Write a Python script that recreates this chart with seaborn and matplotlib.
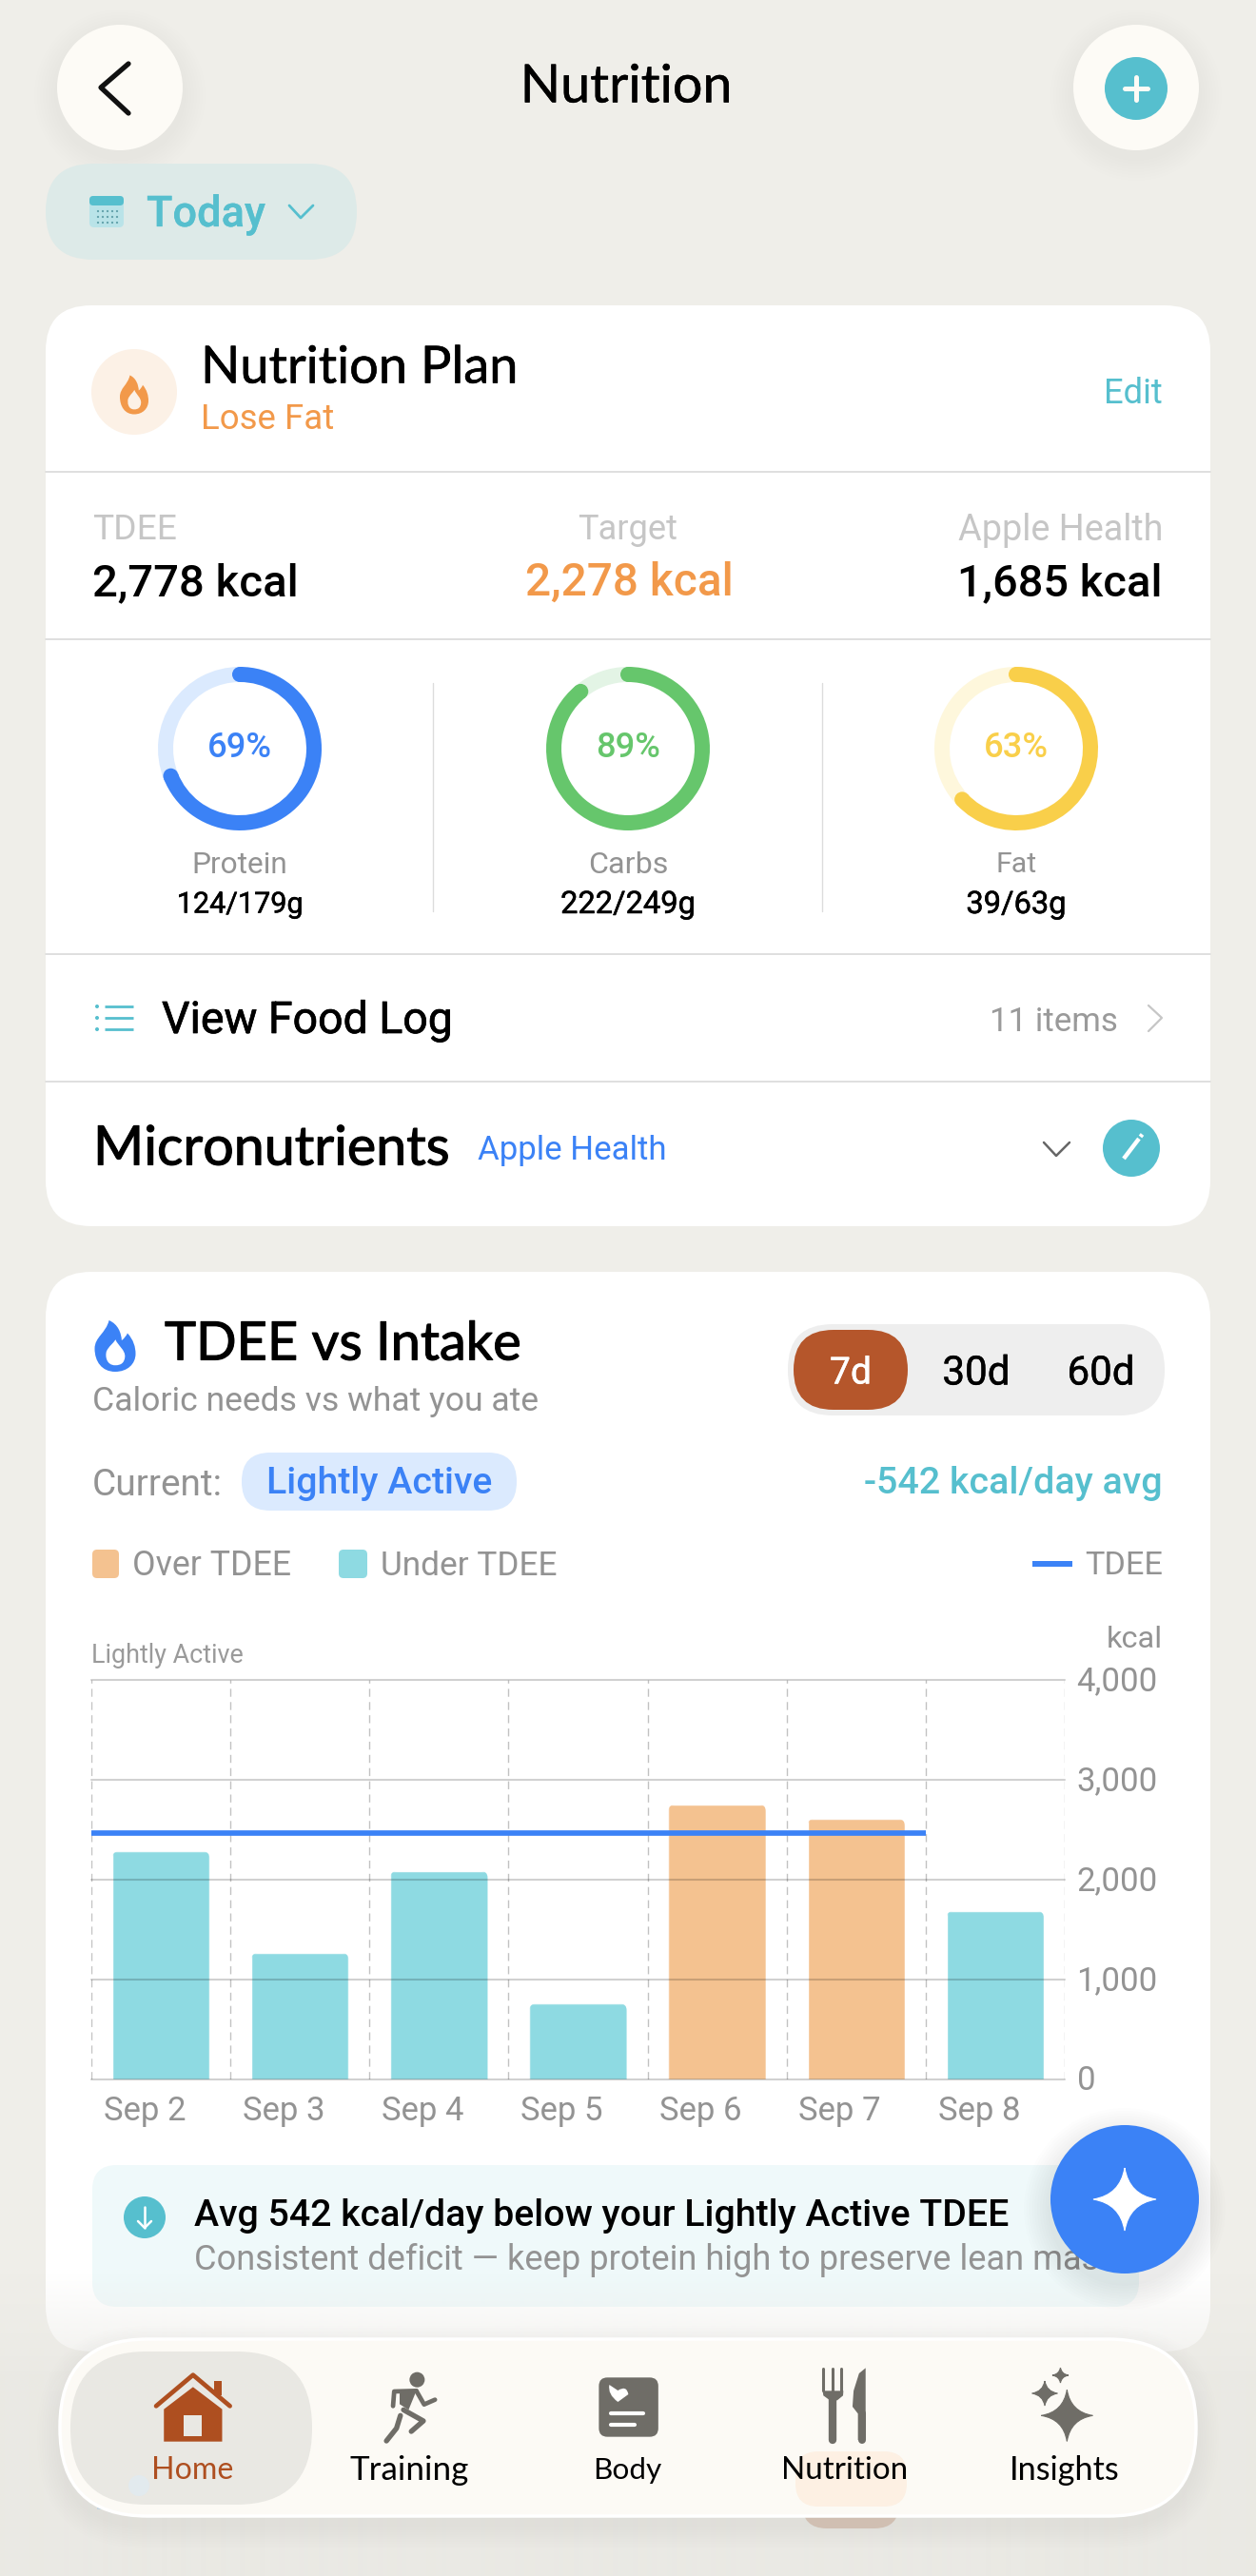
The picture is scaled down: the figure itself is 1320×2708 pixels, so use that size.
import numpy as np
import pandas as pd
import matplotlib
matplotlib.use("Agg")
import matplotlib.pyplot as plt
import seaborn as sns
from matplotlib.patches import FancyBboxPatch, Circle, PathPatch, Rectangle
from matplotlib.path import Path
from matplotlib.transforms import ScaledTranslation, IdentityTransform
import matplotlib.patheffects as pe

# ---------- chart data ----------
DAYS = ["Sep 2", "Sep 3", "Sep 4", "Sep 5", "Sep 6", "Sep 7", "Sep 8"]
INTAKE = [2282, 1265, 2085, 758, 2752, 2607, 1684]
STATUS = ["Under", "Under", "Under", "Under", "Over", "Over", "Under"]
TDEE_LINE = 2465
YTICKS = [0, 1000, 2000, 3000, 4000]

RING_NAMES = ["Protein", "Carbs", "Fat"]
RING_PCT = [69, 89, 63]
RING_AMOUNT = ["124/179g", "222/249g", "39/63g"]

# ---------- colours ----------
BG = "#EFEEE9"
TEAL = "#56BFCE"
BLUE = "#3B82F6"
ORANGE = "#F2994A"
RUST = "#AE4F20"
GREY_ICON = "#6F6D67"
GREY_TEXT = "#939393"
BAR_COL = {"Over": "#F4C290", "Under": "#8EDAE2"}
RING_COL = ["#3B82F6", "#66C66C", "#F9CF4A"]
RING_TRACK = ["#DBEAFE", "#E3F4E5", "#FEF7DC"]

sns.set_theme(style="white")
plt.rcParams["font.family"] = ["Roboto", "DejaVu Sans"]
W, H = 1320, 2708
fig = plt.figure(figsize=(W / 100, H / 100), dpi=100, facecolor=BG)
renderer = fig.canvas.get_renderer()


def px_axes(z):
    a = fig.add_axes([0, 0, 1, 1], zorder=z)
    a.set_xlim(0, W)
    a.set_ylim(H, 0)
    a.axis("off")
    a.patch.set_alpha(0)
    return a


ui = px_axes(0)
top = px_axes(5)


def T(ax, x, y, s, w=None, ha="left", color="black", weight="normal", family=None,
      stroke=0.0, z=10, size=24):
    kw = {"family": family} if family else {}
    t = ax.text(x, y + 1, s, ha=ha, va="center", color=color, fontweight=weight, fontsize=size, zorder=z, **kw)
    if w:
        t.set_fontsize(size * w / t.get_window_extent(renderer).width)
    if stroke:
        t.set_path_effects([pe.withStroke(linewidth=stroke, foreground=color)])
    return t


def box(ax, x0, y0, x1, y1, r, color, z=1, ec="none", lw=0, alpha=None):
    p = FancyBboxPatch((x0, y0), x1 - x0, y1 - y0, boxstyle=f"round,pad=0,rounding_size={r}",
                       fc=color, ec=ec, lw=lw, zorder=z, alpha=alpha)
    ax.add_patch(p)
    return p


def circ(ax, x, y, r, color, z=1, alpha=None, ec="none", lw=0):
    c = Circle((x, y), r, fc=color, ec=ec, lw=lw, zorder=z, alpha=alpha)
    ax.add_patch(c)


def poly(ax, pts, color, lw=2.0, z=3, fill=False, cap="round"):
    xs, ys = zip(*pts)
    if fill:
        ax.fill(xs, ys, color=color, zorder=z, lw=0)
    else:
        ax.plot(xs, ys, color=color, lw=lw, zorder=z, solid_capstyle=cap, solid_joinstyle="round")


def star(ax, cx, cy, rx, ry, color, z=6, k=0.12):
    P = [(cx, cy - ry), (cx + k * rx, cy - k * ry), (cx + rx, cy), (cx + k * rx, cy + k * ry),
         (cx, cy + ry), (cx - k * rx, cy + k * ry), (cx - rx, cy), (cx - k * rx, cy - k * ry), (cx, cy - ry)]
    C = [Path.MOVETO] + [Path.CURVE3] * 8
    ax.add_patch(PathPatch(Path(P, C), fc=color, ec=color, lw=0.8, zorder=z))


def flame(ax, cx, cy, w, h, color, inner="white", z=3):
    def M(p):
        return (cx + p[0] * w / 2, cy + p[1] * h / 2)
    pts = [(0, 1), (-0.65, 1), (-1, 0.6), (-1, 0.1), (-1, -0.35), (-0.45, -0.5), (-0.3, -1),
           (0.15, -0.85), (0.3, -0.5), (0.32, -0.22), (0.45, -0.3), (0.55, -0.4), (0.6, -0.5),
           (0.9, -0.25), (1, 0.05), (1, 0.3), (1, 0.7), (0.6, 1), (0, 1)]
    codes = [Path.MOVETO] + [Path.CURVE4] * 18
    ax.add_patch(PathPatch(Path([M(p) for p in pts], codes), fc=color, ec="none", zorder=z))
    ip = [(0, 0.75), (-0.42, 0.75), (-0.5, 0.4), (-0.42, 0.2), (-0.3, 0), (-0.1, -0.1), (0.02, -0.25),
          (0.15, 0), (0.5, 0.15), (0.48, 0.42), (0.45, 0.65), (0.3, 0.75), (0, 0.75)]
    ax.add_patch(PathPatch(Path([M(p) for p in ip], [Path.MOVETO] + [Path.CURVE4] * 12),
                           fc=inner, ec="none", zorder=z + 0.1))


# ---------- page ----------
# header buttons
for cx in (126, 1194):
    for i in range(8):
        s = 24 * (1 - i / 8)
        circ(ui, cx, 100, 66 + s, "black", z=0.5, alpha=0.004)
    circ(ui, cx, 92, 66, "#FDFBF6", z=1)
poly(ui, [(135, 67), (106, 92), (135, 119)], "#111111", lw=3.8, z=3)
circ(ui, 1194, 93, 33, TEAL, z=2)
poly(ui, [(1194, 81), (1194, 105)], "#FDFBF6", lw=3.6)
poly(ui, [(1182, 93), (1206, 93)], "#FDFBF6", lw=3.6)
T(ui, 658, 91, "Nutrition", w=223, ha="center", family="Lato", stroke=0.3)

# date pill
box(ui, 48, 172, 375, 273, 50, "#DDEAE8")
box(ui, 94, 206, 130, 239, 5, "#B9E3E8", z=2)
box(ui, 94, 206, 130, 216, 4, TEAL, z=2.1)
for yy in (222, 228, 234):
    for xx in (103, 108, 113, 118, 123):
        circ(ui, xx, yy, 1.1, "#5E9FA8", z=3)
T(ui, 154, 225, "Today", w=125, color=TEAL, weight="medium", stroke=0.2)
poly(ui, [(304, 216), (316, 229), (329, 216)], TEAL, lw=2.0)

# card 1
box(ui, 48, 321, 1272, 1289, 48, "white")
circ(ui, 141, 412, 45, "#FCF1E6", z=2)
flame(ui, 141, 415, 30, 41, ORANGE, inner="#FCF1E6")
T(ui, 211, 386, "Nutrition Plan", w=334, family="Lato", stroke=0.4)
T(ui, 211, 440, "Lose Fat", w=140, color=ORANGE)
T(ui, 1222, 413, "Edit", w=62, ha="right", color=TEAL)
for yy in (496, 672, 1003, 1136.5):
    ui.plot([48, 1272], [yy, yy], color="#D6D6D6", lw=1.1, zorder=2)
T(ui, 97, 556, "TDEE", w=89, color="#C6C6C6")
T(ui, 660, 556, "Target", w=105, ha="center", color="#C6C6C6")
T(ui, 1222, 556, "Apple Health", w=215, ha="right", color="#C6C6C6")
T(ui, 97, 612, "2,778 kcal", w=217, weight="medium")
T(ui, 661, 612, "2,278 kcal", w=219, ha="center", color=ORANGE, weight="medium")
T(ui, 1222, 612, "1,685 kcal", w=215, ha="right", weight="medium")
for xx in (455, 864):
    ui.plot([xx, xx], [718, 958], color="#DCDCDC", lw=1.0, zorder=2)

# rings
RING_X = [252, 660, 1068]
RING_W = [101, 84, 43]
RING_AW = [133, 142, 105]
RING_PW = [68, 68, 68]
RR = 86.0
for i, cx in enumerate(RING_X):
    rax = fig.add_axes([(cx - RR) / W, 1 - (787 + RR) / H, 2 * RR / W, 2 * RR / H], zorder=2)
    rax.pie([RING_PCT[i], 100 - RING_PCT[i]], colors=[RING_COL[i], RING_TRACK[i]], startangle=90,
            counterclock=False, radius=1.0, wedgeprops=dict(width=16 / RR, linewidth=0))
    rax.set_xlim(-1, 1)
    rax.set_ylim(-1, 1)
    rax.patch.set_alpha(0)
    rm = 1 - 8 / RR
    for ang in (np.pi / 2, np.pi / 2 - 2 * np.pi * RING_PCT[i] / 100):
        rax.add_patch(Circle((rm * np.cos(ang), rm * np.sin(ang)), 8 / RR, fc=RING_COL[i], ec="none", zorder=5))
    T(ui, cx, 785, f"{RING_PCT[i]}%", w=RING_PW[i], ha="center", color=RING_COL[i], weight="medium")
    T(ui, cx, 908, RING_NAMES[i], w=RING_W[i], ha="center", color=GREY_TEXT)
    T(ui, cx, 950, RING_AMOUNT[i], w=RING_AW[i], ha="center", stroke=0.35)

# food log row
for yy in (1058, 1070, 1082):
    circ(ui, 102, yy, 2.0, TEAL, z=3)
    poly(ui, [(110, yy), (140, yy)], TEAL, lw=2.0, cap="butt")
T(ui, 170, 1072, "View Food Log", w=306, stroke=0.5)
T(ui, 1175, 1073, "11 items", w=135, ha="right", color="#9A9A9A")
poly(ui, [(1207, 1057), (1221, 1070), (1207, 1084)], "#C6C6C6", lw=1.6)

# micronutrients row
T(ui, 98, 1208, "Micronutrients", w=375, family="Lato", stroke=0.8)
T(ui, 502, 1208, "Apple Health", w=199, color=BLUE)
poly(ui, [(1097, 1201), (1110, 1215), (1124, 1201)], "#666666", lw=1.8)
circ(ui, 1189, 1207, 30, TEAL, z=2)
poly(ui, [(1181, 1218), (1197, 1197)], "white", lw=3.2, cap="butt")
poly(ui, [(1198.5, 1195), (1200.5, 1192.5)], "white", lw=3.2, cap="butt")

# card 2
box(ui, 48, 1337, 1272, 2472, 48, "white")
flame(ui, 121, 1415, 43, 54, BLUE)
T(ui, 173, 1413, "TDEE vs Intake", w=375, family="Lato", stroke=0.8)
T(ui, 97, 1472, "Caloric needs vs what you ate", w=468, color=GREY_TEXT)
box(ui, 828, 1392, 1224, 1488, 47, "#EEEEEE", z=2)
box(ui, 834, 1398, 954, 1482, 42, "#B5562B", z=3)
T(ui, 894, 1443, "7d", w=44, ha="center", color="white", stroke=0.3)
T(ui, 1026, 1443, "30d", w=71, ha="center", stroke=0.3)
T(ui, 1157, 1443, "60d", w=71, ha="center", stroke=0.3)
T(ui, 97, 1560, "Current:", w=137, color=GREY_TEXT)
box(ui, 254, 1527, 543, 1588, 30, "#DBEAFE", z=2)
T(ui, 280, 1559, "Lightly Active", w=238, color=BLUE, weight="medium")
T(ui, 1222, 1559, "-542 kcal/day avg", w=314, ha="right", color=TEAL, weight="medium")

# legend
box(ui, 97, 1629, 125, 1659, 5, BAR_COL["Over"], z=2)
T(ui, 139, 1645, "Over TDEE", w=167, color=GREY_TEXT)
box(ui, 356, 1629, 386, 1659, 5, BAR_COL["Under"], z=2)
T(ui, 400, 1645, "Under TDEE", w=186, color=GREY_TEXT)
ui.add_patch(Rectangle((1085, 1641), 42, 6, fc=BLUE, ec="none", zorder=2))
T(ui, 1222, 1645, "TDEE", w=82, ha="right", color=GREY_TEXT)
T(ui, 96, 1740, "Lightly Active", w=160, color="#9A9A9A")
T(ui, 1222, 1722, "kcal", w=59, ha="right", color=GREY_TEXT)

# ---------- seaborn chart ----------
L, R, TOP, BOT = 96, 1119, 1766, 2186
ax = fig.add_axes([L / W, 1 - BOT / H, (R - L) / W, (BOT - TOP) / H], zorder=2)
ax.patch.set_alpha(0)
df = pd.DataFrame({"day": DAYS, "kcal": INTAKE, "status": STATUS})
sns.barplot(data=df, x="day", y="kcal", hue="status", dodge=False, palette=BAR_COL, width=0.7,
            saturation=1, legend=False, ax=ax, zorder=3)
ax.set_xlim(-0.5, len(DAYS) - 0.5)
ax.set_ylim(0, 4000)
ax.set_xlabel("")
ax.set_ylabel("")
sns.despine(ax=ax, left=True, right=True, top=True, bottom=True)
ax.yaxis.tick_right()
ax.set_yticks(YTICKS)
ax.set_yticklabels([f"{v:,}" for v in YTICKS])
ax.tick_params(axis="y", length=0, pad=9.0, labelsize=25, labelcolor=GREY_TEXT)
ax.tick_params(axis="x", length=0, pad=12.0, labelsize=25, labelcolor=GREY_TEXT)
off = ScaledTranslation(-17 / 100, 0, fig.dpi_scale_trans)
for lab in ax.get_xticklabels():
    lab.set_transform(lab.get_transform() + off)
up = ScaledTranslation(0, 2 / 100, fig.dpi_scale_trans)
for lab in ax.get_yticklabels():
    lab.set_transform(lab.get_transform() + up)
# grid
for xv in np.arange(-0.5, len(DAYS)):
    ax.axvline(xv, color="#C2C2C2", lw=1.0, ls=(0, (6, 4)), zorder=1)
for yv in YTICKS:
    ax.axhline(yv, color="black", alpha=0.18, lw=1.5, zorder=4, clip_on=False)
ax.hlines(TDEE_LINE, -0.5, len(DAYS) - 1.5, color=BLUE, lw=4.1, zorder=5)
# small rounding of the bar tops
for bar in ax.patches:
    e = bar.get_window_extent(renderer)
    clip = FancyBboxPatch((e.x0, e.y0 - 20), e.width, e.height + 20,
                          boxstyle="round,pad=0,rounding_size=7", transform=IdentityTransform())
    bar.set_clip_path(clip)

# insight box
box(ui, 97, 2276, 1197, 2425, 26, "#EFF9FA", z=2)
circ(ui, 152, 2331, 22, TEAL, z=3)
poly(ui, [(152, 2320), (152, 2342)], "white", lw=1.8, z=4)
poly(ui, [(145, 2335), (152, 2342), (159, 2335)], "white", lw=1.8, z=4)
T(ui, 204, 2328, "Avg 542 kcal/day below your Lightly Active TDEE", w=856, weight="medium")
T(ui, 204, 2375, "Consistent deficit \u2014 keep protein high to preserve lean mass", w=972, color=GREY_TEXT)

# ---------- overlay: fade, nav, FAB ----------
grad_y = np.array([2390, 2470, 2500, 2708])
grad_a = np.array([0.0, 0.52, 0.9, 1.0])
ys = np.arange(2350, H)
rgba = np.ones((len(ys), 1, 4))
rgba[..., :3] = matplotlib.colors.to_rgb("#EAE9E4")
rgba[:, 0, 3] = np.interp(ys, grad_y, grad_a)
box(top, 48, 2490, 1272, 2760, 48, "#F4F3EF", z=0.1)
box(top, 843, 2600, 945, 2658, 26, "#DAC9BC", z=0.3)
top.add_patch(Rectangle((102, 2627), 19, 11, fc="#CFDDE9", ec="none", zorder=0.3))
top.imshow(rgba, extent=(0, W, 2708, 2350), aspect="auto", zorder=0.2, interpolation="bilinear")
top.set_xlim(0, W)
top.set_ylim(H, 0)

# shadow + nav bar
for i in range(10):
    s = 24 * (1 - i / 10)
    box(top, 63 - s, 2459 - s + 10, 1257 + s, 2645 + s + 10, 92 + s, "black", z=0.5, alpha=0.0035)
box(top, 63, 2459, 1257, 2645, 92, "#FCFAF5", z=1, ec="#FFFFFF", lw=2.5)
box(top, 74, 2472, 328, 2633, 80, "#E9E8E3", z=1.2)
box(top, 836, 2577, 953, 2635, 24, "#FDF0E3", z=1.2)
circ(top, 146, 2613, 11, "#E2EAEE", z=1.3)
NAV = [("Home", 202, 86, RUST), ("Training", 430, 125, "black"), ("Body", 659, 72, "black"),
       ("Nutrition", 888, 133, "black"), ("Insights", 1119, 116, "black")]
for s, cx, w, c in NAV:
    T(top, cx, 2596, s, w=w, ha="center", color=c, family="Lato", z=8)


def z6(x, y):
    return (60 + x / 2.45, 2450 + y / 3)


def z7(x, y):
    return (700 + x / 2.613, 2450 + y / 3)


# home icon
poly(top, [z6(255, 238), z6(350, 140), z6(445, 238)], RUST, lw=3.4, z=4)
top.add_patch(Rectangle(z6(405, 160), 20 / 2.45, 45 / 3, fc=RUST, ec="none", zorder=4))
poly(top, [z6(350, 178), z6(425, 248), z6(425, 350), z6(275, 350), z6(275, 248)], RUST, fill=True, z=4)
top.add_patch(Rectangle(z6(327, 267), 45 / 2.45, 66 / 3, fc="#E9E8E3", ec="none", zorder=5))
# runner icon
circ(top, *z6(927, 155), 8.0, GREY_ICON, z=4)
poly(top, [z6(865, 238), z6(868, 192), z6(925, 190)], GREY_ICON, lw=3.4, z=4)
poly(top, [z6(882, 190), z6(925, 190), z6(905, 250), z6(882, 232)], GREY_ICON, fill=True, z=4)
poly(top, [z6(925, 190), z6(945, 233), z6(973, 218)], GREY_ICON, lw=3.4, z=4)
poly(top, [z6(892, 250), z6(943, 285), z6(912, 318)], GREY_ICON, lw=3.9, z=4)
poly(top, [z6(884, 268), z6(874, 308), z6(848, 348)], GREY_ICON, lw=3.9, z=4)
# body icon
bx0, by0 = z6(1395, 148)
bx1, by1 = z6(1548, 335)
box(top, bx0, by0, bx1, by1, 9, GREY_ICON, z=4)
hx, hy = z6(1444, 198)
hp = [(hx, hy + 9), (hx - 11, hy + 1), (hx - 9, hy - 9), (hx, hy - 3), (hx + 9, hy - 9), (hx + 11, hy + 1), (hx, hy + 9)]
top.add_patch(PathPatch(Path(hp, [Path.MOVETO] + [Path.CURVE3] * 2 + [Path.LINETO] + [Path.CURVE3] * 2 + [Path.LINETO]),
                        fc="white", ec="none", zorder=5))
poly(top, [z6(1427, 262), z6(1508, 262)], "white", lw=3.0, z=5)
poly(top, [z6(1427, 296), z6(1488, 296)], "white", lw=3.0, z=5)
# fork and knife
for xx in (432, 458, 482):
    poly(top, [z7(xx, 120), z7(xx, 190)], GREY_ICON, lw=2.2, z=4)
poly(top, [z7(430, 190), z7(432, 205), z7(450, 220), z7(470, 220), z7(486, 205), z7(487, 190)], GREY_ICON, fill=True, z=4)
poly(top, [z7(458, 215), z7(458, 345)], GREY_ICON, lw=6.0, z=4)
poly(top, [z7(548, 118), z7(530, 135), z7(515, 190), z7(512, 240), z7(527, 262), z7(527, 345), z7(548, 345)],
     GREY_ICON, fill=True, z=4)
poly(top, [z7(537, 262), z7(537, 345)], GREY_ICON, lw=5.8, z=4)
# sparkles
star(top, *z7(1101, 268), 27, 27, GREY_ICON, z=4, k=0.14)
star(top, *z7(1040, 198), 13.5, 13, GREY_ICON, z=4, k=0.14)
star(top, *z7(1083, 141), 8.5, 8, GREY_ICON, z=4, k=0.14)

# FAB
for i in range(10):
    s = 28 * (1 - i / 10)
    circ(top, 1182, 2322, 78 + s, "black", z=2, alpha=0.008)
circ(top, 1182, 2312, 78, BLUE, z=3)
star(top, 1182, 2312, 33, 33, "white", z=4, k=0.14)

fig.savefig("out.png", dpi=100, facecolor=BG)
